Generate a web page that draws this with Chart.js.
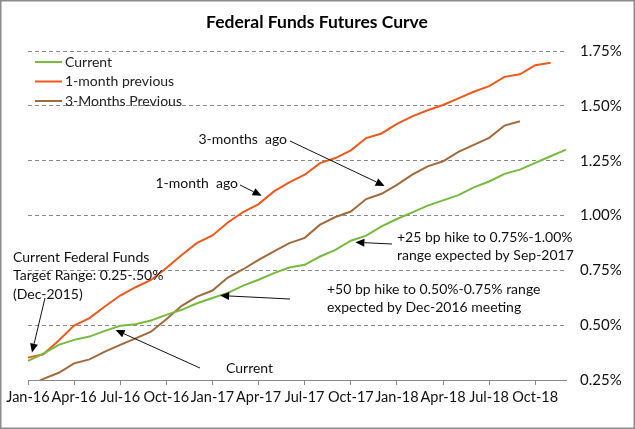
<!DOCTYPE html>
<html>
<head>
<meta charset="utf-8">
<script src="https://cdn.jsdelivr.net/npm/chart.js@4/dist/chart.umd.min.js"></script>
<style>
  html, body { margin: 0; padding: 0; background: #fff; }
  #wrap { width: 635px; height: 429px; position: relative; }
</style>
</head>
<body>
<div id="wrap"><canvas id="container"></canvas></div>
<script>
// months Jan-16 .. Dec-18
const months = ['Jan-16','Feb-16','Mar-16','Apr-16','May-16','Jun-16','Jul-16','Aug-16','Sep-16','Oct-16','Nov-16','Dec-16',
  'Jan-17','Feb-17','Mar-17','Apr-17','May-17','Jun-17','Jul-17','Aug-17','Sep-17','Oct-17','Nov-17','Dec-17',
  'Jan-18','Feb-18','Mar-18','Apr-18','May-18','Jun-18','Jul-18','Aug-18','Sep-18','Oct-18','Nov-18','Dec-18']

const current = [0.337, 0.370, 0.410, 0.433, 0.448, 0.474, 0.497, 0.504, 0.521, 0.547, 0.570, 0.600,
  0.624, 0.647, 0.680, 0.707, 0.737, 0.763, 0.775, 0.813, 0.843, 0.885, 0.908, 0.950,
  0.984, 1.014, 1.045, 1.069, 1.093, 1.128, 1.155, 1.190, 1.209, 1.240, 1.270, 1.300]

const oneMonth = [0.352, 0.367, 0.430, 0.498, 0.532, 0.585, 0.635, 0.673, 0.706, 0.761, 0.820, 0.875,
  0.909, 0.968, 1.016, 1.052, 1.110, 1.151, 1.186, 1.239, 1.262, 1.297, 1.353, 1.374,
  1.418, 1.452, 1.480, 1.504, 1.534, 1.564, 1.590, 1.632, 1.644, 1.685, 1.696, null]

const threeMonths = [0.220, 0.255, 0.283, 0.326, 0.344, 0.379, 0.410, 0.440, 0.470, 0.527, 0.588, 0.630,
  0.658, 0.717, 0.755, 0.798, 0.836, 0.874, 0.898, 0.958, 0.993, 1.018, 1.075, 1.099,
  1.140, 1.186, 1.224, 1.247, 1.290, 1.322, 1.354, 1.410, 1.430, null, null, null]

const yTicks = [0.25, 0.50, 0.75, 1.00, 1.25, 1.50, 1.75]

const FONT = 'Lato, "Open Sans", sans-serif'

// notes: text lines, text position, arrow tail (px) and arrow tip (month index, value)
const notes = [
  { lines: ['3-months  ago'], x: 287, y: 139, align: 'right', tail: [290, 141], tip: [23.2, 1.135] },
  { lines: ['1-month  ago'], x: 238, y: 183, align: 'right', tail: [240, 185], tip: [15.2, 1.09] },
  { lines: ['Current Federal Funds', 'Target Range: 0.25-.50%', '(Dec-2015)'], x: 13, y: 257, align: 'left', tail: [45, 298], tip: [0.26, 0.375] },
  { lines: ['Current'], x: 226, y: 368, align: 'left', tail: [200, 368], tip: [5.7, 0.478] },
  { lines: ['+50 bp hike to 0.50%-0.75% range', 'expected by Dec-2016 meeting'], x: 327, y: 289, align: 'left', tail: [290, 299], tip: [12.5, 0.635] },
  { lines: ['+25 bp hike to 0.75%-1.00%', 'range expected by Sep-2017'], x: 397, y: 237, align: 'left', tail: [392, 244], tip: [21.3, 0.878] }
]

const extras = {
  id: 'extras',
  beforeDraw(chart) {
    const ctx = chart.ctx
    ctx.save()
    ctx.fillStyle = '#fff'
    ctx.fillRect(0, 0, chart.width, chart.height)
    ctx.restore()
  },
  afterDraw(chart) {
    const ctx = chart.ctx
    const xs = chart.scales.x, ys = chart.scales.y
    ctx.save()
    // title
    ctx.fillStyle = '#000'
    ctx.font = 'bold 17.5px ' + FONT
    ctx.textAlign = 'center'
    ctx.textBaseline = 'middle'
    ctx.fillText('Federal Funds Futures Curve', 317, 22)

    // legend
    ctx.font = '14px ' + FONT
    ctx.textAlign = 'left'
    chart.data.datasets.forEach((ds, i) => {
      const y = 62 + i * 19.5
      ctx.strokeStyle = ds.borderColor
      ctx.lineWidth = 2
      ctx.beginPath()
      ctx.moveTo(35, y)
      ctx.lineTo(62, y)
      ctx.stroke()
      ctx.fillStyle = '#222'
      ctx.fillText(ds.label, 65, y)
    })

    // notes with arrows
    ctx.font = '14px ' + FONT
    notes.forEach(n => {
      ctx.fillStyle = '#111'
      ctx.textAlign = n.align
      n.lines.forEach((t, k) => ctx.fillText(t, n.x, n.y + k * 18.5))
      const tx = xs.getPixelForValue(n.tip[0])
      const ty = ys.getPixelForValue(n.tip[1])
      const [sx, sy] = n.tail
      const ang = Math.atan2(ty - sy, tx - sx)
      const hl = 9, hw = 4
      const bx = tx - hl * Math.cos(ang), by = ty - hl * Math.sin(ang)
      ctx.strokeStyle = '#111'
      ctx.lineWidth = 1
      ctx.beginPath()
      ctx.moveTo(sx, sy)
      ctx.lineTo(bx, by)
      ctx.stroke()
      ctx.beginPath()
      ctx.moveTo(tx, ty)
      ctx.lineTo(bx + hw * Math.sin(ang), by - hw * Math.cos(ang))
      ctx.lineTo(bx - hw * Math.sin(ang), by + hw * Math.cos(ang))
      ctx.closePath()
      ctx.fillStyle = '#000'
      ctx.fill()
    })

    // outer frame
    ctx.strokeStyle = '#8c8c8c'
    ctx.lineWidth = 1.5
    ctx.strokeRect(0.75, 0.75, chart.width - 1.5, chart.height - 1.5)
    ctx.restore()
  }
}

const line = (label, data, color) => ({
  label: label,
  data: data,
  fill: false,
  borderColor: color,
  backgroundColor: color,
  borderWidth: 2,
  tension: 0,
  pointRadius: 0,
  spanGaps: false
})

const futuresChart = new Chart(document.getElementById('container'), {
  type: 'line',
  data: {
    labels: months,
    datasets: [
      line('Current', current, 'rgb(118, 187, 62)'),
      line('1-month previous', oneMonth, 'rgb(240, 88, 28)'),
      line('3-Months Previous', threeMonths, 'rgb(162, 106, 60)')
    ]
  },
  options: {
    animation: false,
    responsive: true,
    maintainAspectRatio: false,
    layout: { padding: { left: 28, right: 0, top: 51, bottom: 0 } },
    plugins: {
      legend: { display: false },
      title: { display: false },
      tooltip: { enabled: false }
    },
    scales: {
      x: {
        type: 'category',
        offset: false,
        afterFit: s => { s.height = 49 },
        grid: { drawOnChartArea: false, drawTicks: true, tickLength: 5, color: '#888', lineWidth: 1 },
        border: { display: true, color: '#888', width: 1 },
        ticks: {
          autoSkip: false,
          maxRotation: 0,
          padding: 4,
          color: '#111',
          font: { family: FONT, size: 14.5 },
          callback: function (v, i) { return i % 3 === 0 ? months[i] : null }
        }
      },
      y: {
        position: 'right',
        min: 0.25,
        max: 1.75,
        afterFit: s => { s.width = 69 },
        afterBuildTicks: s => { s.ticks = yTicks.map(v => ({ value: v })) },
        grid: { drawTicks: false, color: '#8a8a8a', lineWidth: 1 },
        border: { display: false, dash: [4, 3] },
        ticks: {
          padding: 14,
          color: '#111',
          font: { family: FONT, size: 15 },
          callback: v => v.toFixed(2) + '%'
        }
      }
    }
  },
  plugins: [extras]
})
</script>
</body>
</html>
